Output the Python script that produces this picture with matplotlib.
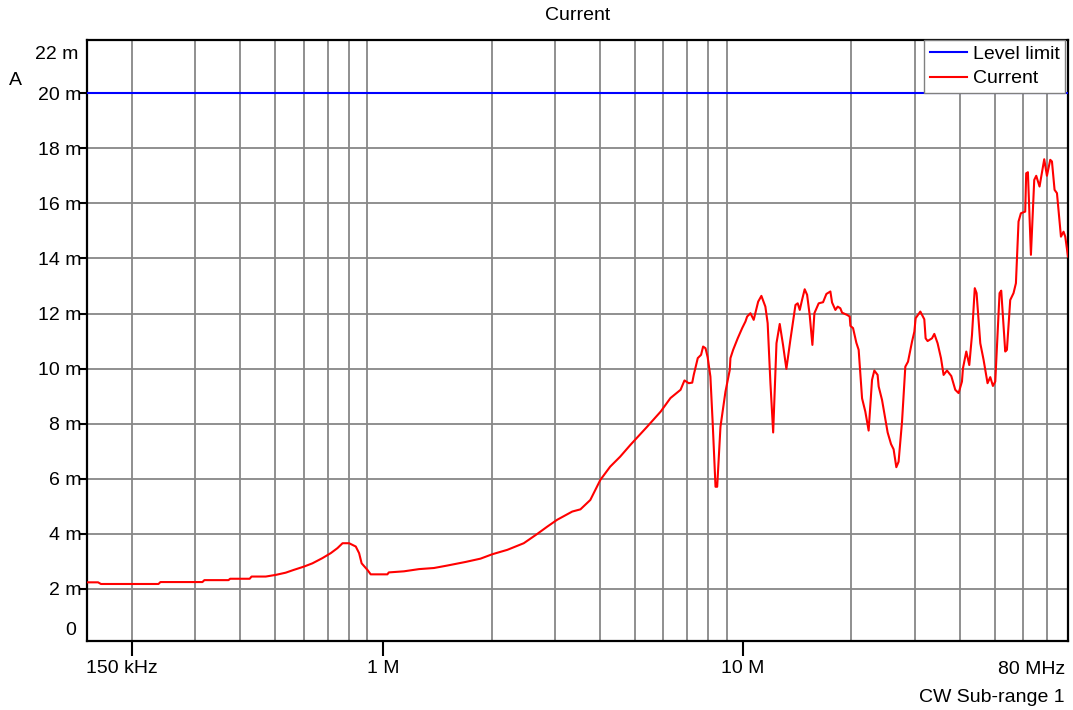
import matplotlib
matplotlib.use("Agg")
import matplotlib.pyplot as plt
from matplotlib.transforms import ScaledTranslation

plt.rcParams['font.family'] = ['Liberation Sans', 'DejaVu Sans']

# ---------------- data ----------------
title = "Current"
y_unit_label = "A"
x_tick_vals = [0.2, 1, 10]
x_tick_labels = ["150 kHz", "1 M", "10 M"]
x_end_label = "80 MHz"
subrange_label = "CW Sub-range 1"
y_tick_vals = [2, 4, 6, 8, 10, 12, 14, 16, 18, 20]

limit_freq_mhz = [0.15, 80.0]
limit_ma = [20.0, 20.0]

freq_mhz = [
    0.150, 0.161, 0.164, 0.237, 0.240, 0.314, 0.318, 0.371, 0.375, 0.425,
    0.430, 0.471, 0.502, 0.535, 0.563, 0.601, 0.635, 0.677, 0.714, 0.745,
    0.770, 0.803, 0.838, 0.856, 0.870, 0.903, 0.922, 1.026, 1.035, 1.141,
    1.256, 1.382, 1.506, 1.692, 1.862, 2.008, 2.211, 2.456, 2.679, 2.853,
    3.04, 3.35, 3.53, 3.76, 4.01, 4.27, 4.55, 4.86, 5.41, 5.90,
    6.28, 6.70, 6.87, 7.06, 7.22, 7.29, 7.48, 7.64, 7.74, 7.86,
    7.97, 8.11, 8.23, 8.38, 8.47, 8.65, 8.93, 9.18, 9.22, 9.38,
    9.66, 9.94, 10.15, 10.26, 10.48, 10.70, 11.01, 11.24, 11.53, 11.70,
    11.91, 12.12, 12.38, 12.64, 12.91, 13.19, 13.53, 13.98, 14.18, 14.37,
    14.58, 14.83, 15.06, 15.31, 15.58, 15.78, 16.22, 16.68, 17.04, 17.48,
    17.67, 18.05, 18.32, 18.63, 18.84, 19.45, 19.78, 19.87, 20.21, 20.64,
    20.95, 21.41, 21.86, 22.33, 22.82, 23.16, 23.65, 23.81, 24.33, 25.22,
    25.77, 26.20, 26.66, 27.05, 27.65, 28.24, 28.73, 29.48, 29.92, 30.17,
    31.09, 31.89, 32.16, 32.57, 33.50, 34.00, 34.72, 35.48, 36.08, 36.87,
    37.90, 38.88, 39.72, 40.58, 40.84, 41.72, 42.53, 43.27, 44.05, 44.56,
    45.63, 46.60, 47.80, 48.64, 49.48, 50.22, 51.62, 52.18, 53.53, 54.11,
    55.27, 56.45, 57.32, 58.29, 59.18, 60.83, 61.22, 61.89, 63.10, 64.45,
    65.28, 66.68, 68.71, 69.91, 71.41, 72.19, 73.41, 74.54, 76.47, 77.76,
    78.61, 80.0,
]
current_ma = [
    2.24, 2.24, 2.18, 2.18, 2.25, 2.25, 2.32, 2.32, 2.37, 2.37,
    2.45, 2.45, 2.51, 2.59, 2.69, 2.81, 2.93, 3.12, 3.30, 3.48,
    3.66, 3.66, 3.54, 3.30, 2.93, 2.69, 2.53, 2.53, 2.60, 2.64,
    2.72, 2.76, 2.85, 2.98, 3.10, 3.26, 3.42, 3.66, 4.00, 4.26,
    4.51, 4.81, 4.89, 5.23, 5.96, 6.44, 6.80, 7.23, 7.89, 8.44,
    8.93, 9.23, 9.57, 9.47, 9.49, 9.77, 10.38, 10.50, 10.80, 10.74,
    10.41, 9.71, 8.02, 5.71, 5.71, 7.89, 9.16, 9.95, 10.38, 10.68,
    11.10, 11.47, 11.71, 11.89, 12.01, 11.77, 12.43, 12.64, 12.25, 11.65,
    9.47, 7.68, 10.92, 11.62, 10.86, 9.99, 11.04, 12.31, 12.37, 12.13,
    12.49, 12.88, 12.68, 11.95, 10.86, 12.01, 12.37, 12.41, 12.71, 12.80,
    12.40, 12.13, 12.25, 12.19, 12.03, 11.95, 11.89, 11.55, 11.47, 10.94,
    10.68, 8.92, 8.44, 7.75, 9.59, 9.93, 9.77, 9.35, 8.86, 7.68,
    7.26, 7.07, 6.42, 6.62, 8.07, 10.07, 10.25, 10.98, 11.34, 11.83,
    12.07, 11.79, 11.10, 11.00, 11.10, 11.26, 10.92, 10.38, 9.77, 9.93,
    9.73, 9.23, 9.11, 9.53, 10.01, 10.62, 10.13, 11.22, 12.92, 12.74,
    10.92, 10.32, 9.47, 9.69, 9.37, 9.53, 12.74, 12.83, 10.62, 10.68,
    12.49, 12.74, 13.10, 15.34, 15.64, 15.70, 17.09, 17.13, 14.13, 16.85,
    17.00, 16.61, 17.60, 17.00, 17.58, 17.52, 16.49, 16.37, 14.79, 14.97,
    14.79, 14.07,
]
assert len(freq_mhz) == len(current_ma)

# ---------------- figure ----------------
W, H = 1073, 710
fig = plt.figure(figsize=(W / 100, H / 100), dpi=100)
ax = fig.add_axes([87 / W, 1 - 641 / H, (1068 - 87) / W, (641 - 40) / H])

FS = 14
grid_col = '#878787'

ax.set_xscale('log')
ax.set_xlim(0.15, 80)
ax.set_ylim(0.11, 21.93)

# vertical grid positions (2..9 per decade)
grid_x = [m * 10 ** e for e in (-1, 0, 1) for m in range(2, 10)
          if 0.15 < m * 10 ** e < 80]
for gx in grid_x:
    ax.axvline(gx, color=grid_col, lw=1.3, zorder=1)
for gy in y_tick_vals:
    ax.axhline(gy, color=grid_col, lw=1.3, zorder=1)

ax.plot(limit_freq_mhz, limit_ma, color='#0000ff', lw=1.5, label='Level limit', zorder=3)
ax.plot(freq_mhz, current_ma, color='#ff0000', lw=1.5, label='Current', zorder=4)

# ticks
ax.xaxis.set_minor_locator(matplotlib.ticker.NullLocator())
ax.set_xticks(x_tick_vals)
ax.set_xticklabels(x_tick_labels, fontsize=FS)
ax.tick_params(axis='x', direction='out', length=11, width=1.5, pad=3)
ax.set_yticks(y_tick_vals)
ax.set_yticklabels([f"{v} m" for v in y_tick_vals], fontsize=FS)
ax.tick_params(axis='y', direction='out', length=5.5, width=1.5, pad=-1.5)

# shift first x label left a bit
lbl = ax.get_xticklabels()[0]
lbl.set_transform(lbl.get_transform() + ScaledTranslation(-10 / 100, 0, fig.dpi_scale_trans))

for s in ax.spines.values():
    s.set_linewidth(1.6)
    s.set_color('black')

# extra y labels (22 m and 0)
ax.annotate("22 m", xy=(0, 22), xycoords=('axes fraction', 'data'),
            xytext=(-6.5, -11.5), textcoords='offset points',
            ha='right', va='center', fontsize=FS)
ax.annotate("0", xy=(0, 0), xycoords=('axes fraction', 'data'),
            xytext=(-7.5, 10), textcoords='offset points',
            ha='right', va='center', fontsize=FS)

# legend
leg = ax.legend(loc='upper right', bbox_to_anchor=((1065 - 87) / 981, 1.0),
                fontsize=FS, frameon=True, fancybox=False,
                edgecolor='#808080', framealpha=1, borderaxespad=0.0,
                handlelength=1.9, handletextpad=0.3, labelspacing=0.35,
                borderpad=0.28)
leg.get_frame().set_linewidth(1.0)

# texts
fig.text((87 + 1068) / 2 / W, 1 - 16 / H, title, ha='center', va='center', fontsize=FS)
fig.text(15.5 / W, 1 - 80.5 / H, y_unit_label, ha='center', va='center', fontsize=FS)
fig.text(1065 / W, 1 - 670 / H, x_end_label, ha='right', va='center', fontsize=FS)
fig.text(1065 / W, 1 - 697 / H, subrange_label, ha='right', va='center', fontsize=FS)

fig.savefig('out.png', dpi=100)
